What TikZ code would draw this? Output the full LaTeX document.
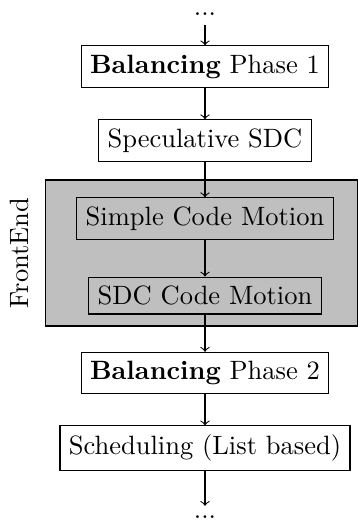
\documentclass[tikz,border=0pt]{standalone}
\begin{document}
\begin{tikzpicture}[x=0.37736pt,y=-0.37736pt,
  stepbox/.style={draw, inner sep=3.333pt},
  flow/.style={->},
  dotsnode/.style={inner sep=3.333pt}]
\useasboundingbox (0,0) rectangle (358,520);
\node[draw, fill=lightgray, minimum width=117.9pt, minimum height=55.1pt, inner sep=0pt] (fe) at (201.3,253) {};
\node[rotate=90] (felabel) at (19,253) {FrontEnd};
\node[dotsnode, anchor=base] (top) at (205,15.5) {...};
\node[stepbox] (bp1) at (205,66.5) {\textbf{Balancing} Phase 1};
\node[stepbox] (spec) at (205,140.5) {Speculative SDC};
\node[stepbox] (scm) at (205,218.5) {Simple Code Motion};
\node[stepbox] (sdc) at (205,295.5) {SDC Code Motion};
\node[stepbox] (bp2) at (205,373) {\textbf{Balancing} Phase 2};
\node[stepbox] (sched) at (205,448) {Scheduling (List based)};
\node[dotsnode, anchor=base] (bot) at (205,518) {...};
\draw[flow] (top) -- (bp1);
\draw[flow] (bp1) -- (spec);
\draw[flow] (spec) -- (scm);
\draw[flow] (scm) -- (sdc);
\draw[flow] (sdc) -- (bp2);
\draw[flow] (bp2) -- (sched);
\draw[flow] (sched) -- (bot);
\end{tikzpicture}
\end{document}
